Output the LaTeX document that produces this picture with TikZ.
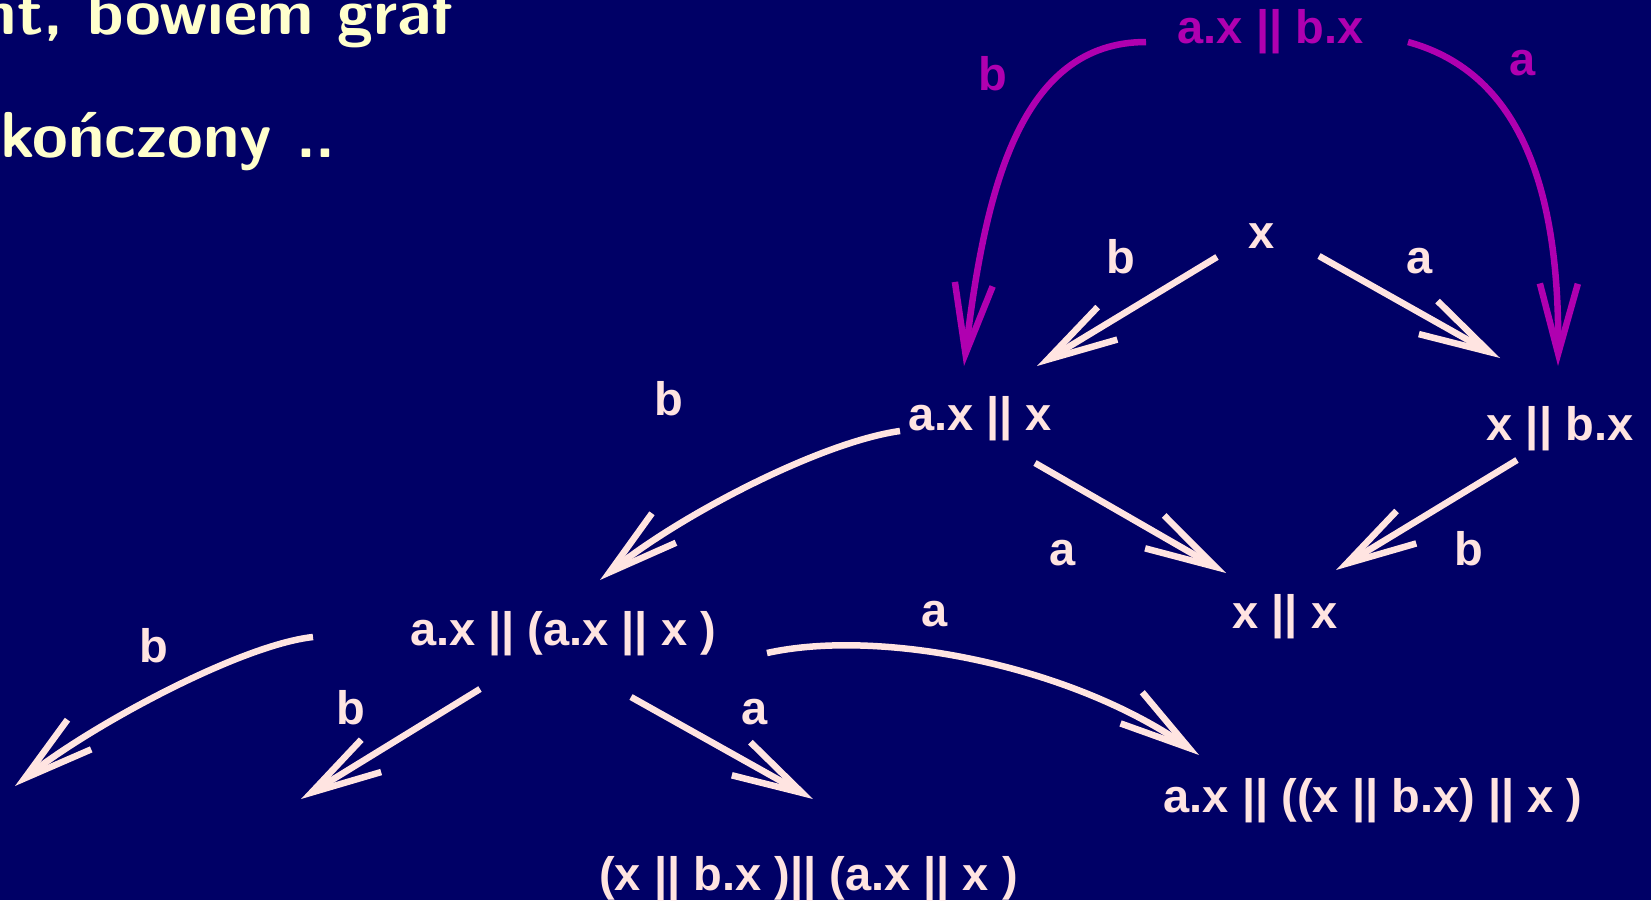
\documentclass[tikz,border=0pt]{standalone}
\usepackage{fontspec}
\newfontfamily\labfont{Liberation Sans}
\usetikzlibrary{arrows.meta}
\definecolor{bg}{HTML}{000066}
\definecolor{pale}{HTML}{FFE4E1}
\definecolor{mag}{HTML}{B000B0}
\definecolor{ylw}{HTML}{FFFFCC}
\begin{document}
\begin{tikzpicture}[x=1pt,y=-1pt,
  st/.style={font={\labfont\bfseries\fontsize{47}{56}\selectfont}, text=pale, inner sep=0pt, anchor=base},
  ttl/.style={font={\sffamily\bfseries\fontsize{65}{78}\selectfont}, text=ylw, inner sep=0pt, anchor=base east},
  conn/.style={line width=6.5pt, draw=pale, -{Straight Barb[length=70pt,width=38pt]}},
  mconn/.style={conn, draw=mag}]
\fill[bg] (0,0) rectangle (1651,900);
\useasboundingbox (0,0) rectangle (1651,900);

% title text
\node[ttl] (t1) at (454,34) {nt, bowiem graf};
\node[ttl] (t2) at (336,157) {kończony ..};

% states
\node[st,text=mag] (T) at (1270.5,43) {a.x || b.x};
\node[st] (X) at (1262,248) {x};
\node[st] (L) at (980,430) {a.x || x};
\node[st] (R) at (1560,440) {x || b.x};
\node[st] (XX) at (1285,628) {x || x};
\node[st] (LL) at (563,645) {a.x || (a.x || x )};
\node[st] (BR) at (1373,812) {a.x || ((x || b.x) || x )};
\node[st] (B) at (808.5,890) {(x || b.x )|| (a.x || x )};

% labels
\node[st,text=mag] (lm1) at (993,90) {b};
\node[st,text=mag] (lm2) at (1523,75) {a};
\node[st] (l1) at (1121,273) {b};
\node[st] (l2) at (1420,273) {a};
\node[st] (l3) at (669,415) {b};
\node[st] (l4) at (1063,565) {a};
\node[st] (l5) at (1469,565) {b};
\node[st] (l6) at (935,626) {a};
\node[st] (l7) at (154,662) {b};
\node[st] (l8) at (351,724) {b};
\node[st] (l9) at (755,724) {a};

% connector end points
\coordinate (Ts1) at (1146,42);
\coordinate (Ts2) at (1408,42);
\coordinate (Le1) at (964,366);
\coordinate (Re1) at (1558,366);
\coordinate (Xs1) at (1217,257);
\coordinate (Xs2) at (1319,256);
\coordinate (Le2) at (1037,366);
\coordinate (Re2) at (1500,358);
\coordinate (Ls1) at (900,431);
\coordinate (LLe) at (600,580);
\coordinate (Ls2) at (1035,463);
\coordinate (XXe1) at (1226,573);
\coordinate (Rs) at (1517,460);
\coordinate (XXe2) at (1336,570);
\coordinate (LLs1) at (313,637);
\coordinate (F1) at (15,786);
\coordinate (LLs2) at (480,689);
\coordinate (F2) at (301,799);
\coordinate (LLs3) at (631,697);
\coordinate (Be) at (813,799);
\coordinate (LLs4) at (767,653);
\coordinate (BRe) at (1199,755);

% magenta arcs
\draw[mconn] (Ts1) .. controls (1020,42) and (985,190) .. (Le1);
\draw[mconn] (Ts2) .. controls (1510,70) and (1560,170) .. (Re1);

% pale connectors
\draw[conn] (Xs1) -- (Le2);
\draw[conn] (Xs2) -- (Re2);
\draw[conn] (Ls1) .. controls (821,442) and (680,515) .. (LLe);
\draw[conn] (Ls2) -- (XXe1);
\draw[conn] (Rs) -- (XXe2);
\draw[conn] (LLs1) .. controls (240,645) and (90,726) .. (F1);
\draw[conn] (LLs2) -- (F2);
\draw[conn] (LLs3) -- (Be);
\draw[conn] (LLs4) .. controls (880,628) and (1070,665) .. (BRe);
\end{tikzpicture}
\end{document}
